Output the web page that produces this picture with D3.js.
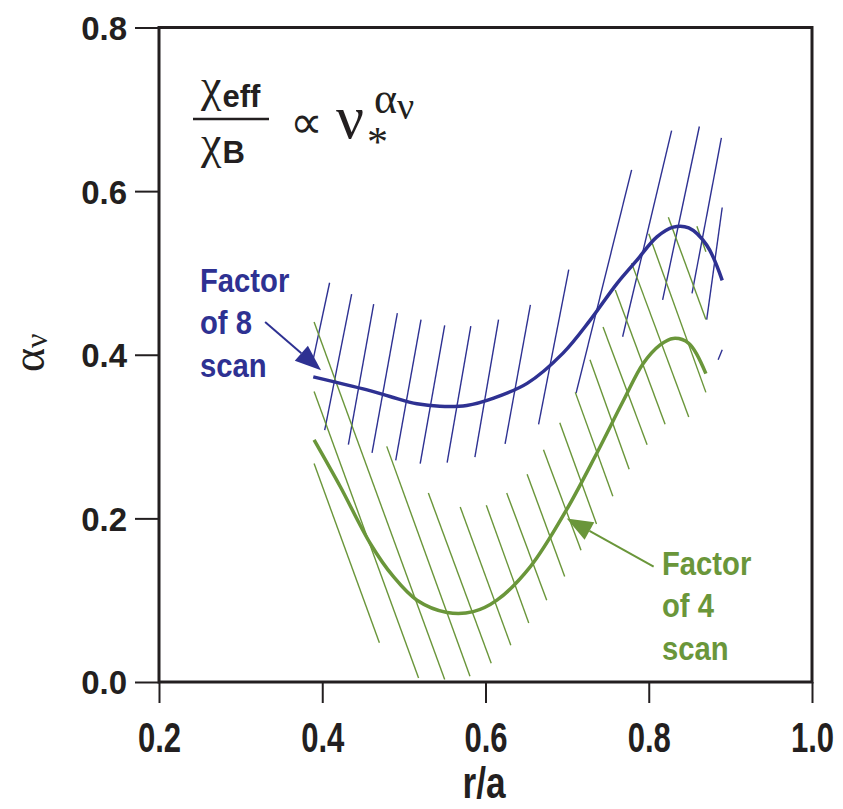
<!DOCTYPE html>
<html><head><meta charset="utf-8">
<script src="https://cdn.jsdelivr.net/npm/d3@7"></script>
<style>body{margin:0;background:#fff}svg{display:block}</style>
</head><body><svg id="c" width="843" height="809"></svg>
<script>
// ---- data ----
const xTicks = [0.2, 0.4, 0.6, 0.8, 1.0];
const yTicks = [0.0, 0.2, 0.4, 0.6, 0.8];
const blueX = [0.389, 0.455, 0.483, 0.516, 0.544, 0.577, 0.610, 0.651, 0.695, 0.728, 0.761, 0.785, 0.810, 0.830, 0.849, 0.871, 0.890];
const blueY = [0.373, 0.357, 0.349, 0.340, 0.337, 0.338, 0.347, 0.365, 0.402, 0.442, 0.487, 0.515, 0.544, 0.556, 0.555, 0.534, 0.491];
const greenX = [0.390, 0.422, 0.459, 0.487, 0.516, 0.553, 0.585, 0.614, 0.655, 0.699, 0.736, 0.769, 0.793, 0.814, 0.830, 0.849, 0.870];
const greenY = [0.296, 0.239, 0.169, 0.129, 0.100, 0.085, 0.086, 0.100, 0.141, 0.210, 0.279, 0.344, 0.389, 0.412, 0.420, 0.414, 0.377];
// hatch segments: [x_top, y_top, x_bottom, y_bottom]
const blueHatch = [
  [0.409, 0.488, 0.389, 0.395],
  [0.436, 0.474, 0.403, 0.308],
  [0.463, 0.462, 0.432, 0.290],
  [0.492, 0.451, 0.461, 0.280],
  [0.521, 0.443, 0.490, 0.271],
  [0.550, 0.436, 0.520, 0.267],
  [0.582, 0.435, 0.553, 0.268],
  [0.616, 0.443, 0.587, 0.275],
  [0.655, 0.461, 0.624, 0.291],
  [0.702, 0.504, 0.665, 0.315],
  [0.779, 0.626, 0.711, 0.353],
  [0.828, 0.674, 0.768, 0.422],
  [0.862, 0.679, 0.817, 0.467],
  [0.889, 0.665, 0.853, 0.475],
  [0.890, 0.580, 0.871, 0.443],
  [0.890, 0.406, 0.885, 0.394]
];
const greenHatch = [
  [0.390, 0.440, 0.550, 0.003],
  [0.390, 0.355, 0.518, 0.005],
  [0.390, 0.267, 0.470, 0.048],
  [0.479, 0.288, 0.581, 0.007],
  [0.530, 0.231, 0.607, 0.023],
  [0.569, 0.214, 0.631, 0.045],
  [0.601, 0.216, 0.653, 0.072],
  [0.626, 0.231, 0.675, 0.100],
  [0.651, 0.254, 0.697, 0.129],
  [0.671, 0.284, 0.717, 0.161],
  [0.691, 0.317, 0.736, 0.193],
  [0.710, 0.354, 0.756, 0.227],
  [0.728, 0.394, 0.776, 0.260],
  [0.744, 0.434, 0.798, 0.290],
  [0.759, 0.479, 0.820, 0.315],
  [0.779, 0.512, 0.849, 0.324],
  [0.800, 0.548, 0.870, 0.354],
  [0.824, 0.568, 0.870, 0.443],
  [0.859, 0.557, 0.870, 0.526]
];
const blueArrow = [0.330, 0.440, 0.3985, 0.381];
const greenArrow = [0.806, 0.141, 0.6995, 0.200];
const blueLabel = ["Factor", "of 8", "scan"];
const greenLabel = ["Factor", "of 4", "scan"];

// ---- drawing ----
const BLUE = "#2e3192", GREEN = "#6a963a", INK = "#231f20";
const SANS = "Liberation Sans, Arial, sans-serif", SERIF = "Liberation Serif, Times New Roman, serif";
const svg = d3.select("#c");
const x = d3.scaleLinear().domain([0.2, 1.0]).range([159, 812]);
const y = d3.scaleLinear().domain([0, 0.8]).range([682, 27.5]);

// hatches
svg.append("g").selectAll("line").data(blueHatch).join("line")
  .attr("x1", d => x(d[0])).attr("y1", d => y(d[1])).attr("x2", d => x(d[2])).attr("y2", d => y(d[3]))
  .attr("stroke", BLUE).attr("stroke-width", 1.4);
svg.append("g").selectAll("line").data(greenHatch).join("line")
  .attr("x1", d => x(d[0])).attr("y1", d => y(d[1])).attr("x2", d => x(d[2])).attr("y2", d => y(d[3]))
  .attr("stroke", GREEN).attr("stroke-width", 1.4);

const line = d3.line().x(d => x(d[0])).y(d => y(d[1])).curve(d3.curveCatmullRom.alpha(0.5));
svg.append("path").datum(blueX.map((v, i) => [v, blueY[i]])).attr("d", line)
  .attr("fill", "none").attr("stroke", BLUE).attr("stroke-width", 3.5);
svg.append("path").datum(greenX.map((v, i) => [v, greenY[i]])).attr("d", line)
  .attr("fill", "none").attr("stroke", GREEN).attr("stroke-width", 3.5);

// arrows
function arrow(a, col) {
  const x1 = x(a[0]), y1 = y(a[1]), x2 = x(a[2]), y2 = y(a[3]);
  const ang = Math.atan2(y2 - y1, x2 - x1);
  const L = 26, W = 10;
  const bx = x2 - L * Math.cos(ang), by = y2 - L * Math.sin(ang);
  svg.append("line").attr("x1", x1).attr("y1", y1).attr("x2", bx).attr("y2", by)
    .attr("stroke", col).attr("stroke-width", 2);
  const px = -Math.sin(ang) * W, py = Math.cos(ang) * W;
  svg.append("path").attr("d", `M${x2},${y2}L${bx + px},${by + py}L${bx - px},${by - py}Z`).attr("fill", col);
}
arrow(blueArrow, BLUE);
arrow(greenArrow, GREEN);

// labels
function label(lines, col, x0, y0) {
  const t = svg.append("text").attr("fill", col).attr("font-family", SANS)
    .attr("font-weight", "bold").attr("font-size", 34)
    .attr("transform", `translate(${x0},${y0}) scale(0.86,1)`);
  lines.forEach((s, i) => t.append("tspan").attr("x", 0).attr("y", i * 42.5).text(s));
}
label(blueLabel, BLUE, 200, 292);
label(greenLabel, GREEN, 662, 575);

// frame
svg.append("rect").attr("x", x(0.2)).attr("y", y(0.8)).attr("width", x(1.0) - x(0.2)).attr("height", y(0) - y(0.8))
  .attr("fill", "none").attr("stroke", INK).attr("stroke-width", 3);

// axes
const yAxis = svg.append("g").attr("transform", `translate(${x(0.2)},0)`)
  .call(d3.axisLeft(y).tickValues(yTicks).tickFormat(d3.format(".1f")).tickSize(24).tickPadding(8));
const xAxis = svg.append("g").attr("transform", `translate(0,${y(0)})`)
  .call(d3.axisBottom(x).tickValues(xTicks).tickFormat(d3.format(".1f")).tickSize(21).tickPadding(10));
[yAxis, xAxis].forEach(g => {
  g.select(".domain").remove();
  g.selectAll(".tick line").attr("stroke", INK).attr("stroke-width", 2);
  g.selectAll(".tick text").attr("fill", INK).attr("font-family", SANS).attr("font-weight", "bold");
});
yAxis.selectAll(".tick text").attr("font-size", 33).attr("dy", "0.36em");
xAxis.selectAll(".tick text").attr("font-size", 42).attr("dy", null).attr("y", 70)
  .attr("transform", "scale(0.74,1)");

// axis titles
svg.append("text").attr("text-anchor", "middle")
  .attr("transform", "translate(484,798) scale(0.8,1)")
  .attr("fill", INK).attr("font-family", SANS).attr("font-weight", "bold")
  .attr("font-size", 44).text("r/a");
const yt = svg.append("text").attr("transform", "translate(44,372) rotate(-90)")
  .attr("fill", INK).attr("font-family", SERIF).attr("font-size", 46);
yt.append("tspan").text("α");
yt.append("tspan").attr("font-size", 32).attr("dy", 3).text("ν");

// formula
const f1 = svg.append("text").attr("x", 201).attr("y", 101).attr("fill", INK);
f1.append("tspan").attr("font-family", SERIF).attr("font-size", 46).text("χ");
f1.append("tspan").attr("font-family", SANS).attr("font-weight", "bold").attr("font-size", 31).attr("dy", 6).attr("dx", 1).text("eff");
svg.append("line").attr("x1", 193).attr("x2", 269).attr("y1", 119).attr("y2", 119).attr("stroke", INK).attr("stroke-width", 2.5);
const f2 = svg.append("text").attr("x", 201).attr("y", 158).attr("fill", INK);
f2.append("tspan").attr("font-family", SERIF).attr("font-size", 46).text("χ");
f2.append("tspan").attr("font-family", SANS).attr("font-weight", "bold").attr("font-size", 31).attr("dy", 5).attr("dx", 1).text("B");
svg.append("text").attr("x", 290).attr("y", 138).attr("fill", INK).attr("font-family", SERIF).attr("font-size", 46).text("∝");
svg.append("text").attr("x", 336).attr("y", 138).attr("fill", INK).attr("font-family", SERIF).attr("font-size", 62).text("ν");
svg.append("text").attr("x", 367).attr("y", 156).attr("fill", INK).attr("font-family", SERIF).attr("font-size", 42).text("*");
const f3 = svg.append("text").attr("x", 374).attr("y", 113).attr("fill", INK).attr("font-family", SERIF);
f3.append("tspan").attr("font-size", 44).text("α");
f3.append("tspan").attr("font-size", 38).attr("dy", 6).text("ν");
</script></body></html>
